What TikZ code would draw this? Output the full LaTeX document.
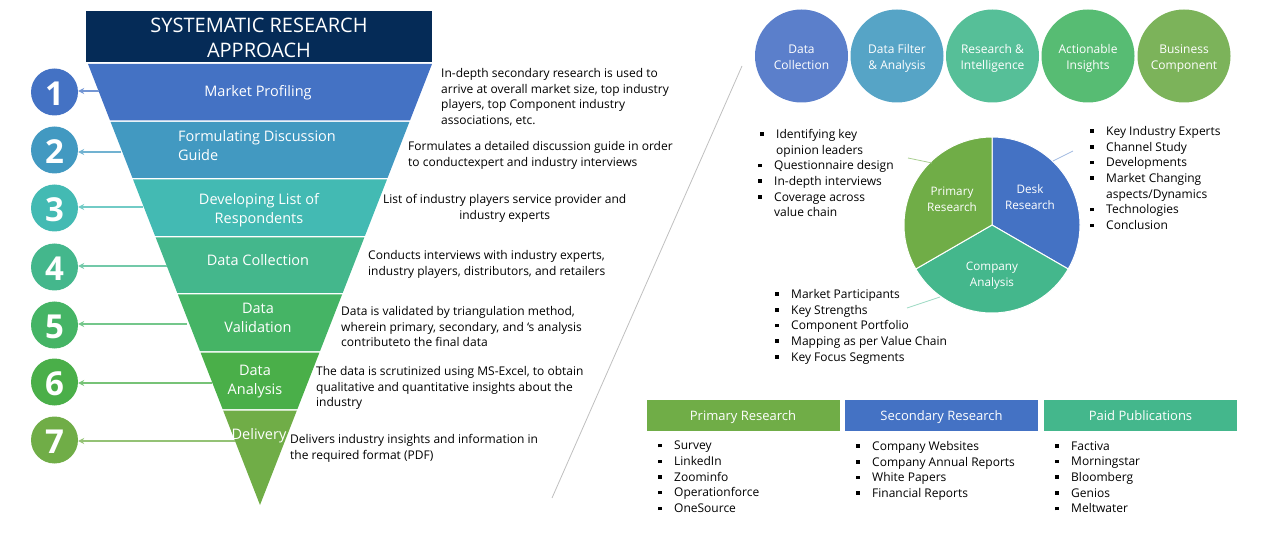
\documentclass[tikz,border=0pt]{standalone}
\usepackage{fontspec}
\usepackage{xcolor}
\setmainfont{Open Sans}
\usetikzlibrary{arrows.meta}

\definecolor{navy}{HTML}{052B57}
\definecolor{stepa}{HTML}{4472C4}
\definecolor{stepb}{HTML}{4299C1}
\definecolor{stepc}{HTML}{43BAB3}
\definecolor{stepd}{HTML}{44B78C}
\definecolor{stepe}{HTML}{45B465}
\definecolor{stepf}{HTML}{4AAF49}
\definecolor{stepg}{HTML}{70AD47}
\definecolor{ballb}{HTML}{56A4C6}
\definecolor{ballc}{HTML}{56BF98}
\definecolor{balld}{HTML}{57BC73}
\definecolor{balle}{HTML}{7CB35A}
\definecolor{balla}{HTML}{5B7FCB}

\newcommand{\blt}{\makebox[16pt][l]{\rule[2.5pt]{3.5pt}{3.5pt}}}
\newcommand{\bltgap}{\hspace*{16pt}}
\newcommand{\lowr}[2]{\raisebox{-#1}[\height][\depth]{#2}}

\tikzset{
	numball/.style={circle,inner sep=0pt,minimum size=47pt,text=white,font=\fontsize{33}{33}\selectfont\bfseries},
	topball/.style={circle,inner sep=0pt,minimum size=93pt,text=white,align=center,font=\fontsize{12}{16}\selectfont},
	seglabel/.style={inner sep=0pt,text=white,align=center,font=\fontsize{14.5}{19}\selectfont},
	pielabel/.style={inner sep=0pt,text=white,align=center,font=\fontsize{11.7}{16}\selectfont},
	bluetxt/.style={inner sep=0pt,anchor=north west,align=left,font=\fontsize{12}{15.7}\selectfont},
	headbox/.style={inner sep=0pt,minimum width=193pt,minimum height=31pt,text height=12.5pt,text depth=3pt,text=white,font=\fontsize{13}{15}\selectfont},
	backarrow/.style={line width=1.7pt,-{Stealth[length=6pt,width=6pt]}},
	leader/.style={line width=0.8pt}
}

\begin{document}
\begin{tikzpicture}[x=1pt,y=-1pt]
	\useasboundingbox (0,0) rectangle (1261,537);

	% heading of the funnel
	\node[fill=navy,inner sep=0pt,minimum width=346pt,minimum height=51pt,text=white,align=center,font=\fontsize{20}{25}\selectfont] (title) at (259,36.5) {\lowr{1pt}{SYSTEMATIC RESEARCH}\\\lowr{1pt}{APPROACH}};

	% funnel bands and numbered balls
	\foreach \n/\ya/\yb/\ybal/\yarr/\xarr/\col in {1/64/120.5/92/91/99/stepa,2/122/178/150/152/121/stepb,3/179.5/236/208/207/143/stepc,4/237.5/293/267/266/167/stepd,5/294.5/351/325/324/187/stepe,6/352.5/409/382/383/212/stepf,7/410.5/505/440/441/235/stepg}{
		\fill[\col] ({260-0.39*(505-\ya)},\ya) -- ({260+0.39*(505-\ya)},\ya) -- ({260+0.39*(505-\yb)},\yb) -- ({260-0.39*(505-\yb)},\yb) -- cycle;
		\node[numball,fill=\col] (num\n) at (54.5,\ybal) {\lowr{2pt}{\n}};
		\coordinate (band\n) at (\xarr,\yarr);
		\draw[backarrow,\col!75!white] (band\n) -- (band\n -| num\n.east);
	}

	% band labels
	\node[seglabel] (lab1) at (258,92.5) {Market Profiling};
	\node[seglabel,align=left] (lab2) at (257,146) {Formulating Discussion\\Guide};
	\node[seglabel] (lab3) at (259,210.5) {Developing List of\\Respondents};
	\node[seglabel] (lab4) at (258,260) {Data Collection};
	\node[seglabel] (lab5) at (258,318) {Data\\Validation};
	\node[seglabel] (lab6) at (255,382) {Data\\Analysis};
	\node[seglabel] (lab7) at (259,435.5) {Delivery};

	% text beside the bands
	\node[bluetxt] (txt1) at (441,68) {In-depth secondary research is used to\\arrive at overall market size, top industry\\players, top Component industry\\associations, etc.};
	\node[bluetxt] (txt2) at (408,141) {Formulates a detailed discussion guide in order\\to conductexpert and industry interviews};
	\node[bluetxt,align=center] (txt3) at (383,194) {List of industry players service provider and\\industry experts};
	\node[bluetxt] (txt4) at (368,250) {Conducts interviews with industry experts,\\industry players, distributors, and retailers};
	\node[bluetxt] (txt5) at (341,306) {Data is validated by triangulation method,\\wherein primary, secondary, and ‘s analysis\\contributeto the final data};
	\node[bluetxt] (txt6) at (316,366) {The data is scrutinized using MS-Excel, to obtain\\qualitative and quantitative insights about the\\industry};
	\node[bluetxt] (txt7) at (290,434) {Delivers industry insights and information in\\the required format (PDF)};

	% divider
	\coordinate (divtop) at (742,66);
	\coordinate (divbot) at (552,498);
	\draw[black!25,line width=0.8pt] (divtop) -- (divbot);

	% balls on top
	\node[topball,fill=balla] (ball1) at (801.5,56) {\lowr{2pt}{\strut Data}\\\lowr{2pt}{\strut Collection}};
	\node[topball,fill=ballb] (ball2) at (897,56) {\lowr{2pt}{\strut Data Filter}\\\lowr{2pt}{\strut \& Analysis}};
	\node[topball,fill=ballc] (ball3) at (992.5,56) {\lowr{2pt}{\strut Research \&}\\\lowr{2pt}{\strut Intelligence}};
	\node[topball,fill=balld] (ball4) at (1088,56) {\lowr{2pt}{\strut Actionable}\\\lowr{2pt}{\strut Insights}};
	\node[topball,fill=balle] (ball5) at (1184,56) {\lowr{2pt}{\strut Business}\\\lowr{2pt}{\strut Component}};

	% pie
	\begin{scope}[shift={(992,225)},y=1pt]
		\fill[stepa,draw=white,line width=1pt] (0,0) -- (90:88) arc (90:-30:88) -- cycle;
		\fill[stepd,draw=white,line width=1pt] (0,0) -- (-30:88) arc (-30:-150:88) -- cycle;
		\fill[stepg,draw=white,line width=1pt] (0,0) -- (210:88) arc (210:90:88) -- cycle;
	\end{scope}
	\node[pielabel] (desk) at (1030,197.5) {Desk\\Research};
	\node[pielabel] (prim) at (952,199.5) {Primary\\Research};
	\node[pielabel] (comp) at (992,275.5) {Company\\Analysis};

	\coordinate (deska) at (1053,161);
	\coordinate (deskb) at (1073,151);
	\coordinate (prima) at (932,163);
	\coordinate (primb) at (908,158);
	\coordinate (compa) at (940,297);
	\coordinate (compb) at (907,308);
	\draw[leader,stepa!50!white] (deska) -- (deskb);
	\draw[leader,stepg!60!white] (prima) -- (primb);
	\draw[leader,stepd!50!white] (compa) -- (compb);

	\node[bluetxt] (deskl) at (1090,126) {\blt Key Industry Experts\\\blt Channel Study\\\blt Developments\\\blt Market Changing\\\bltgap aspects/Dynamics\\\blt Technologies\\\blt Conclusion};
	\node[bluetxt] (priml) at (758,129) {\hspace*{2pt}\blt Identifying key\\\hspace*{2pt}\bltgap opinion leaders\\\blt Questionnaire design\\\blt In-depth interviews\\\blt Coverage across\\\bltgap value chain};
	\node[bluetxt] (compl) at (775,289) {\blt Market Participants\\\blt Key Strengths\\\blt Component Portfolio\\\blt Mapping as per Value Chain\\\blt Key Focus Segments};

	% boxes and lists at the bottom
	\node[headbox,fill=stepg] (box1) at (743,415.5) {Primary Research};
	\node[headbox,fill=stepa] (box2) at (941.5,415.5) {Secondary Research};
	\node[headbox,fill=stepd] (box3) at (1140.5,415.5) {Paid Publications};

	\node[bluetxt] (list1) at (658,441) {\blt Survey\\\blt LinkedIn\\\blt Zoominfo\\\blt Operationforce\\\blt OneSource};
	\node[bluetxt] (list2) at (856,441) {\blt Company Websites\\\blt Company Annual Reports\\\blt White Papers\\\blt Financial Reports};
	\node[bluetxt] (list3) at (1055,441) {\blt Factiva\\\blt Morningstar\\\blt Bloomberg\\\blt Genios\\\blt Meltwater};
\end{tikzpicture}
\end{document}
